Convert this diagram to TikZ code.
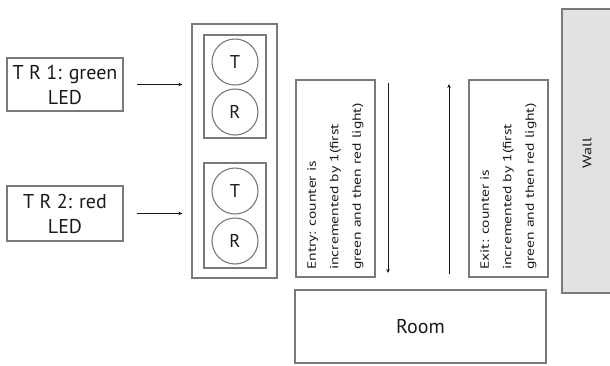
\documentclass[tikz,border=0pt]{standalone}
\usepackage{fontspec}
\setmainfont{PT Sans}
\newfontfamily\widefont[FakeStretch=1.3]{PT Sans}
\usetikzlibrary{arrows.meta}
\definecolor{edge}{HTML}{7A7A7A}
\definecolor{wallfill}{HTML}{E2E2E2}
\definecolor{ink}{HTML}{1A1A1A}
\begin{document}
\begin{tikzpicture}[x=1pt,y=-1pt,
  box/.style={draw=edge,line width=1.3pt,rectangle,inner sep=0pt,text=ink},
  circ/.style={draw=edge,line width=1.1pt,circle,minimum size=46pt,inner sep=0pt,text=ink,font=\fontsize{18.5}{20}\selectfont},
  big/.style={font=\fontsize{20}{25}\selectfont,align=center},
  vtext/.style={rotate=90,anchor=west,inner sep=0pt,align=left,text=ink,font=\widefont\fontsize{12}{22.5}\selectfont},
  arr/.style={draw=ink,line width=0.8pt,-{Stealth[length=4pt,width=3.5pt]}}]
\useasboundingbox (0,0) rectangle (610,365);
\clip (0,0) rectangle (610,365);
% left boxes
\node[box,big,minimum width=116pt,minimum height=53pt] (tr1) at (65,84.5) {T R 1: green\\LED};
\node[box,big,minimum width=116pt,minimum height=55pt] (tr2) at (65,213.5) {T R 2: red\\LED};
% sensor column
\node[box,minimum width=85pt,minimum height=254pt] (outer) at (234.5,151) {};
\node[box,minimum width=62pt,minimum height=103pt] (in1) at (235,86.5) {};
\node[box,minimum width=62pt,minimum height=105pt] (in2) at (235,215.5) {};
\node[circ] (t1) at (235,62) {T};
\node[circ] (r1) at (235,112) {R};
\node[circ] (t2) at (235,191) {T};
\node[circ] (r2) at (235,241) {R};
\draw[arr,shorten <=13pt,shorten >=9pt] (tr1.east) -- (tr1.east -| outer.west);
\draw[arr,shorten <=13pt,shorten >=9pt] (tr2.east) -- (tr2.east -| outer.west);
% entry / exit
\node[box,minimum width=79pt,minimum height=197pt] (entry) at (335.5,178.5) {};
\node[vtext] (entrytxt) at (335.5,270) {Entry: counter is\\incremented by 1(first\\green and then red light)};
\node[box,minimum width=79pt,minimum height=197pt] (exit) at (508.5,178.5) {};
\node[vtext] (exittxt) at (508.5,270) {Exit: counter is\\incremented by 1(first\\green and then red light)};
\coordinate (d1) at (388,83);
\coordinate (d2) at (388,273);
\coordinate (u1) at (449,274);
\coordinate (u2) at (449,84);
\draw[arr] (d1) -- (d2);
\draw[arr] (u1) -- (u2);
% room
\node[box,minimum width=251pt,minimum height=73pt,font=\fontsize{20}{22}\selectfont] (room) at (420.5,326.5) {Room};
% wall
\node[box,fill=wallfill,minimum width=52pt,minimum height=284pt] (wall) at (588,151) {};
\node[rotate=90,text=ink,font=\widefont\fontsize{12.5}{14}\selectfont] (walltxt) at (587,153) {Wall};
\end{tikzpicture}
\end{document}
